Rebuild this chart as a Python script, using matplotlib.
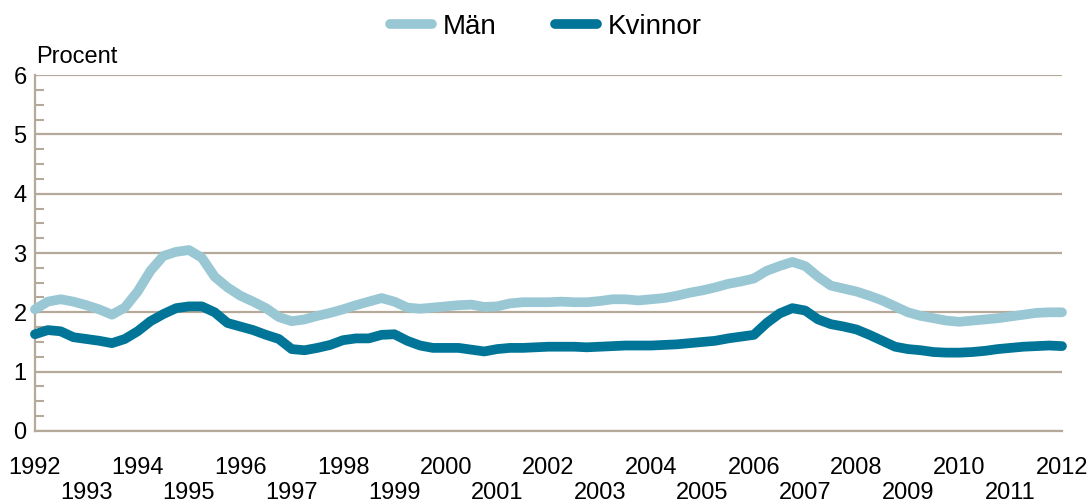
import numpy as np
import matplotlib
matplotlib.use("Agg")
import matplotlib.pyplot as plt
from matplotlib.ticker import MultipleLocator

plt.rcParams['font.family'] = ['Liberation Sans', 'DejaVu Sans']

# Quarterly values 1992.0 - 2012.0
years = np.arange(1992, 2012.01, 0.25)

man = [2.05, 2.18, 2.22, 2.18, 2.12, 2.05, 1.96, 2.08,
       2.35, 2.70, 2.95, 3.02, 3.05, 2.92, 2.60, 2.42,
       2.28, 2.18, 2.07, 1.92, 1.85, 1.88, 1.94, 1.99,
       2.05, 2.12, 2.18, 2.24, 2.18, 2.08, 2.06, 2.08,
       2.10, 2.12, 2.13, 2.09, 2.10, 2.15, 2.17, 2.17,
       2.17, 2.18, 2.17, 2.17, 2.19, 2.22, 2.22, 2.20,
       2.22, 2.24, 2.28, 2.33, 2.37, 2.42, 2.48, 2.52,
       2.57, 2.70, 2.78, 2.85, 2.78, 2.60, 2.45, 2.40,
       2.35, 2.28, 2.20, 2.10, 2.00, 1.94, 1.90, 1.86,
       1.84, 1.86, 1.88, 1.90, 1.93, 1.96, 1.99, 2.00,
       2.00]

kvinnor = [1.63, 1.70, 1.68, 1.58, 1.55, 1.52, 1.48, 1.55,
           1.68, 1.85, 1.97, 2.07, 2.10, 2.10, 2.00, 1.82,
           1.76, 1.70, 1.62, 1.55, 1.38, 1.36, 1.40, 1.45,
           1.53, 1.56, 1.56, 1.62, 1.63, 1.52, 1.44, 1.40,
           1.40, 1.40, 1.37, 1.34, 1.38, 1.40, 1.40, 1.41,
           1.42, 1.42, 1.42, 1.41, 1.42, 1.43, 1.44, 1.44,
           1.44, 1.45, 1.46, 1.48, 1.50, 1.52, 1.56, 1.59,
           1.62, 1.82, 1.98, 2.07, 2.03, 1.88, 1.80, 1.76,
           1.71, 1.62, 1.52, 1.42, 1.38, 1.36, 1.33, 1.32,
           1.32, 1.33, 1.35, 1.38, 1.40, 1.42, 1.43, 1.44,
           1.43]

even_years = list(range(1992, 2013, 2))
odd_years = list(range(1993, 2012, 2))

light = '#99c8d4'
dark = '#007597'
tan = '#b5aa99'

fig = plt.figure(figsize=(10.92, 5.04), dpi=100)
ax = fig.add_axes([0.032, 0.145, 0.9405, 0.706])

ax.plot(years, man, color=light, lw=7, solid_capstyle='round',
        solid_joinstyle='round', label='Män', clip_on=False, zorder=3)
ax.plot(years, kvinnor, color=dark, lw=7, solid_capstyle='round',
        solid_joinstyle='round', label='Kvinnor', clip_on=False, zorder=3)

ax.set_xlim(1992, 2012)
ax.set_ylim(0, 6)

ax.yaxis.set_major_locator(MultipleLocator(1))
ax.yaxis.set_minor_locator(MultipleLocator(0.25))
ax.grid(axis='y', which='major', color=tan, lw=1.6)
ax.tick_params(axis='y', which='major', length=0, labelsize=17, pad=6)
ax.tick_params(axis='y', which='minor', direction='in', length=6.5,
               width=1.5, color=tan)

ax.set_xticks(even_years)
ax.set_xticks(odd_years, minor=True)
ax.set_xticklabels([str(y) for y in even_years])
ax.set_xticklabels([str(y) for y in odd_years], minor=True)
ax.tick_params(axis='x', which='major', length=0, labelsize=17, pad=19)
ax.tick_params(axis='x', which='minor', length=0, labelsize=17, pad=37)

for s in ['top', 'right']:
    ax.spines[s].set_visible(False)
ax.spines['left'].set_color(tan)
ax.spines['left'].set_linewidth(1.6)
ax.spines['bottom'].set_color(tan)
ax.spines['bottom'].set_linewidth(1.6)
ax.set_axisbelow(True)

ax.text(0.001, 1.034, 'Procent', transform=ax.transAxes, fontsize=17,
        ha='left', va='baseline')

fig.legend(loc='upper center', bbox_to_anchor=(0.5, 1.022), ncol=2,
           frameon=False, fontsize=20, handlelength=1.5, columnspacing=2.1,
           handletextpad=0.4)

fig.savefig('out.png', dpi=100)
